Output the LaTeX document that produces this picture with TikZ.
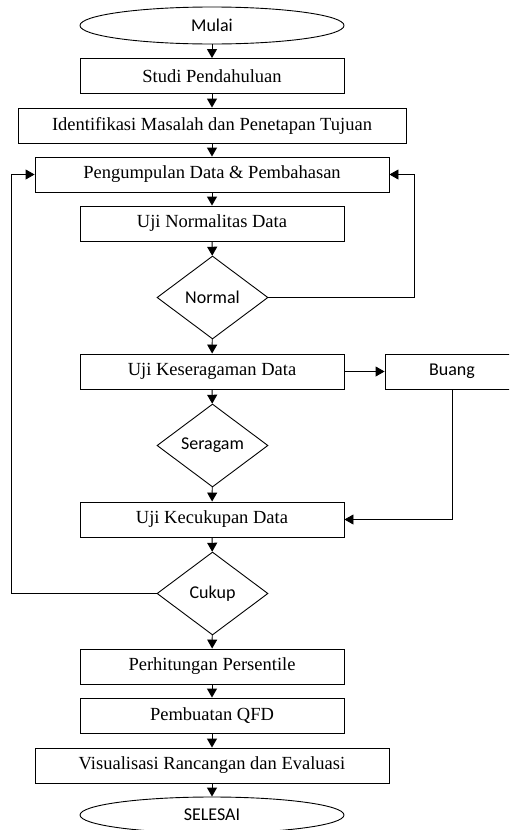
\documentclass[tikz,border=0pt]{standalone}
\usepackage{fontspec}
\setmainfont{Liberation Serif}
\newfontfamily\timesfont{Liberation Serif}
\newfontfamily\calfont{Carlito}
\usetikzlibrary{shapes.geometric,arrows.meta}
\begin{document}
\begin{tikzpicture}[x=1pt,y=-1pt,
  every node/.style={inner sep=0pt,line width=0.9pt},
  proc/.style={draw,rectangle,minimum width=264pt,minimum height=35pt,font=\timesfont\fontsize{18.5}{22}\selectfont},
  wideproc/.style={proc,minimum width=354pt},
  term/.style={draw,ellipse,minimum width=264pt,minimum height=37pt,font=\calfont\fontsize{18}{22}\selectfont},
  decision/.style={draw,diamond,minimum width=111pt,minimum height=83pt,font=\calfont\fontsize{18}{22}\selectfont},
  flow/.style={-{Triangle[width=10pt,length=9pt]},line width=0.9pt}]
\useasboundingbox (0,0) rectangle (509,830);
\clip (0,0) rectangle (509,830);
\node[term] (mulai) at (212,25.5) {Mulai};
\node[proc] (studi) at (212,76) {Studi Pendahuluan\hspace{6pt}};
\node[proc,minimum width=388pt] (ident) at (212,125.5) {Identifikasi Masalah dan Penetapan Tujuan\hspace{16pt}};
\node[wideproc] (kumpul) at (212,174.5) {Pengumpulan Data \& Pembahasan\hspace{10pt}};
\node[proc] (normtest) at (212,223.5) {Uji Normalitas Data\hspace{6pt}};
\node[decision] (normal) at (212.5,297.5) {\raisebox{-2pt}{Normal}};
\node[proc] (seragamtest) at (212,371.5) {Uji Keseragaman Data\hspace{6pt}};
\node[proc,minimum width=134pt,font=\calfont\fontsize{18}{22}\selectfont] (buang) at (452,371.5) {\raisebox{-2pt}{Buang}};
\node[decision] (seragam) at (212.5,445.5) {\raisebox{-2pt}{Seragam}};
\node[proc] (cukuptest) at (212,519.5) {Uji Kecukupan Data\hspace{6pt}};
\node[decision] (cukup) at (212.5,593.5) {\raisebox{-2pt}{Cukup}};
\node[proc] (persentil) at (212,666.5) {Perhitungan Persentile\hspace{6pt}};
\node[proc] (qfd) at (212,715.5) {Pembuatan QFD\hspace{6pt}};
\node[wideproc] (visual) at (212,765.5) {Visualisasi Rancangan dan Evaluasi\hspace{16pt}};
\node[term,minimum height=36pt] (selesai) at (212,815) {SELESAI};
\coordinate (rightrail) at (414,0);
\coordinate (leftrail) at (11,0);
\draw[flow] (mulai) -- (studi);
\draw[flow] (studi) -- (ident);
\draw[flow] (ident) -- (kumpul);
\draw[flow] (kumpul) -- (normtest);
\draw[flow] (normtest) -- (normal);
\draw[flow] (normal) -- (seragamtest);
\draw[flow] (seragamtest) -- (seragam);
\draw[flow] (seragam) -- (cukuptest);
\draw[flow] (cukuptest) -- (cukup);
\draw[flow] (cukup) -- (persentil);
\draw[flow] (persentil) -- (qfd);
\draw[flow] (qfd) -- (visual);
\draw[flow] (visual) -- (selesai);
\draw[flow] (normal.east) -- (normal.east -| rightrail) |- (kumpul.east);
\draw[flow] (seragamtest.east) -- (buang.west);
\draw[flow] (buang.south) |- (cukuptest.east);
\draw[flow] (cukup.west) -- (cukup.west -| leftrail) |- (kumpul.west);
\end{tikzpicture}
\end{document}
